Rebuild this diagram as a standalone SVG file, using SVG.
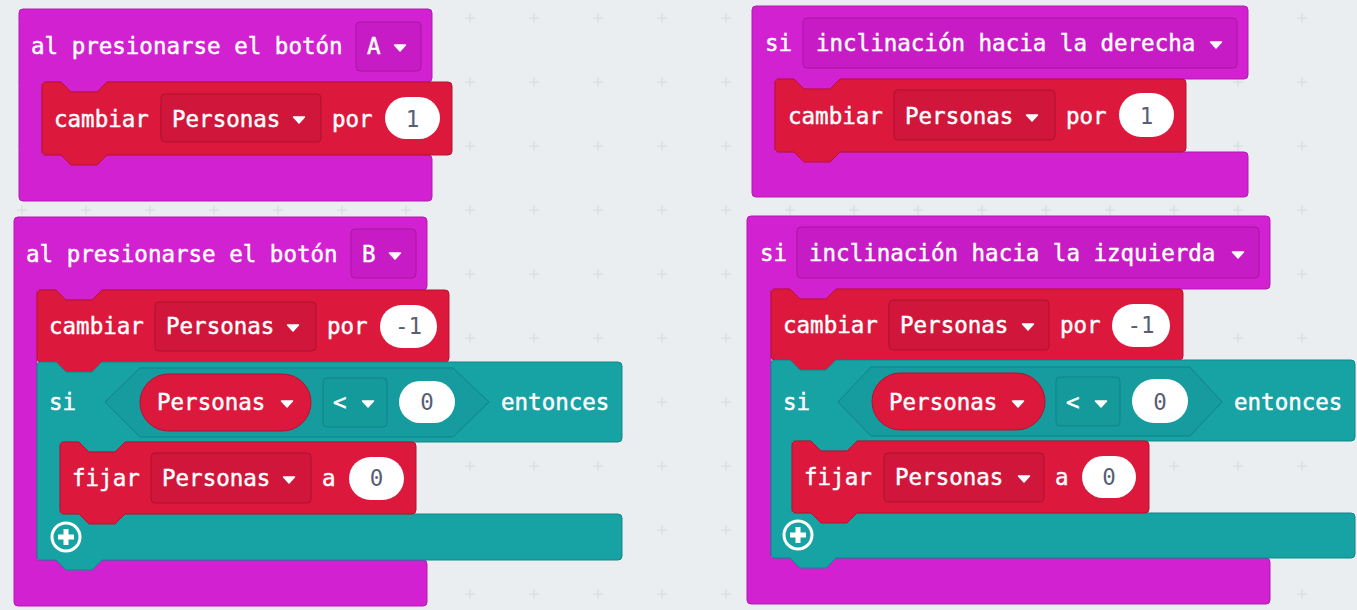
<svg xmlns="http://www.w3.org/2000/svg" xmlns:xlink="http://www.w3.org/1999/xlink" width="1357" height="610" viewBox="0 0 1357 610">
<style>
.bg{fill:#ebeef0}
.pur{fill:#d221d0;stroke:#b419b2;stroke-width:1}
.red{fill:#dc183d;stroke:#b8122f;stroke-width:1}
.teal{fill:#17a2a4;stroke:#10878a;stroke-width:1}
.ddp{fill:#c71cc5;stroke:#a8169f;stroke-width:1}
.ddr{fill:#d0163a;stroke:#ad1030;stroke-width:1}
.ddt{fill:#159a9c;stroke:#0f8385;stroke-width:1}
.pillr{fill:#dc183d;stroke:#b3112f;stroke-width:1}
.hex{fill:#169c9e;stroke:#0f8385;stroke-width:1}
.pill{fill:#ffffff}
text{font-family:"DejaVu Sans Mono","Liberation Mono",monospace;font-size:22.5px}
.t{fill:#ffffff;stroke:#ffffff;stroke-width:0.45}
.n{fill:#575e75;text-anchor:middle}
.tri{fill:#ffffff;stroke:#ffffff;stroke-width:1.5;stroke-linejoin:round}
</style>
<defs>
<pattern id="grid" patternUnits="userSpaceOnUse" x="-10" y="-14" width="64" height="64">
<path d="M27,32 H37 M32,27 V37" stroke="#d6dadd" stroke-width="1"/>
</pattern>
<path id="tri" class="tri" d="M-5.5,-3 H5.5 L0,3 Z"/>
<g id="plus">
<circle r="14" fill="none" stroke="#ffffff" stroke-width="3"/>
<path d="M-8,0 H8 M0,-8 V8" stroke="#ffffff" stroke-width="5"/>
</g>
</defs>
<rect class="bg" x="0" y="0" width="1357" height="610"/>
<rect x="0" y="0" width="1357" height="610" fill="url(#grid)"/>
<g id="connectors"></g>

<g id="block-a">
<path class="pur" d="M23,9 H428 Q432,9 432,13 V78 Q432,82 428,82 H107 L97,92 H71 L61,82 H42 V155 H428 Q432,155 432,159 V197 Q432,201 428,201 H23 Q19,201 19,197 V13 Q19,9 23,9 Z"/>
<text class="t" x="31" y="54">al presionarse el botón</text>
<rect class="ddp" x="356" y="22" width="65" height="49" rx="4"/>
<text class="t" x="367" y="54">A</text>
<use href="#tri" x="400" y="48"/>
<g id="a-cambiar">
<path class="red" d="M42,86 Q42,82 46,82 H61 L71,92 H97 L107,82 H448 Q452,82 452,86 V151 Q452,155 448,155 H107 L97,165 H71 L61,155 H46 Q42,155 42,151 Z"/>
<text class="t" x="54" y="127">cambiar</text>
<rect class="ddr" x="161" y="94" width="160" height="48" rx="4"/>
<text class="t" x="172" y="127">Personas</text>
<use href="#tri" x="299" y="120"/>
<text class="t" x="332" y="127">por</text>
<rect class="pill" x="385" y="97" width="55" height="42" rx="21"/>
<text class="n" x="412.5" y="127">1</text>
</g>
</g>

<g id="block-b">
<path class="pur" d="M18,217 H423 Q427,217 427,221 V286 Q427,290 423,290 H102 L92,300 H66 L56,290 H37 V560 H423 Q427,560 427,564 V602 Q427,606 423,606 H18 Q14,606 14,602 V221 Q14,217 18,217 Z"/>
<text class="t" x="26" y="262">al presionarse el botón</text>
<rect class="ddp" x="351" y="229" width="65" height="49" rx="4"/>
<text class="t" x="362" y="262">B</text>
<use href="#tri" x="395" y="256"/>
<g id="b-cambiar">
<path class="red" d="M37,294 Q37,290 41,290 H56 L66,300 H92 L102,290 H445 Q449,290 449,294 V358 Q449,362 445,362 H102 L92,372 H66 L56,362 H41 Q37,362 37,358 Z"/>
<text class="t" x="49" y="334">cambiar</text>
<rect class="ddr" x="155" y="302" width="161" height="49" rx="4"/>
<text class="t" x="166" y="334">Personas</text>
<use href="#tri" x="293" y="328"/>
<text class="t" x="327" y="334">por</text>
<rect class="pill" x="380" y="305" width="57" height="43" rx="21.5"/>
<text class="n" x="408.5" y="334">-1</text>
</g>
<g id="b-si">
<path class="teal" d="M37,366 Q37,362 41,362 H56 L66,372 H92 L102,362 H618 Q622,362 622,366 V438 Q622,442 618,442 H125 L115,452 H89 L79,442 H60 V514 H618 Q622,514 622,518 V556 Q622,560 618,560 H102 L92,570 H66 L56,560 H41 Q37,560 37,556 Z"/>
<text class="t" x="49" y="410">si</text>
<path class="hex" d="M105,402 L140,368 H453 L489,402 L453,437 H140 Z"/>
<rect class="pillr" x="140" y="374" width="171" height="57" rx="28.5"/>
<text class="t" x="157" y="410">Personas</text>
<use href="#tri" x="287" y="404"/>
<rect class="ddt" x="323" y="378" width="64" height="49" rx="4"/>
<text class="t" x="333" y="410">&lt;</text>
<use href="#tri" x="368" y="404"/>
<rect class="pill" x="399" y="381" width="56" height="42" rx="21"/>
<text class="n" x="427" y="410">0</text>
<text class="t" x="501" y="410">entonces</text>
<use href="#plus" x="66" y="537"/>
</g>
<g id="b-fijar">
<path class="red" d="M60,446 Q60,442 64,442 H79 L89,452 H115 L125,442 H412 Q416,442 416,446 V510 Q416,514 412,514 H125 L115,524 H89 L79,514 H64 Q60,514 60,510 Z"/>
<text class="t" x="72" y="486">fijar</text>
<rect class="ddr" x="151" y="453" width="160" height="50" rx="4"/>
<text class="t" x="162" y="486">Personas</text>
<use href="#tri" x="289" y="480"/>
<text class="t" x="322" y="486">a</text>
<rect class="pill" x="349" y="457" width="55" height="43" rx="21.5"/>
<text class="n" x="376.5" y="486">0</text>
</g>
</g>

<g id="block-c">
<path class="pur" d="M756,6 H1244 Q1248,6 1248,10 V75 Q1248,79 1244,79 H840 L830,89 H804 L794,79 H775 V152 H1244 Q1248,152 1248,156 V193 Q1248,197 1244,197 H756 Q752,197 752,193 V10 Q752,6 756,6 Z"/>
<text class="t" x="765" y="51">si</text>
<rect class="ddp" x="803" y="18" width="434" height="50" rx="4"/>
<text class="t" x="816" y="51">inclinación hacia la derecha</text>
<use href="#tri" x="1216" y="45"/>
<g id="c-cambiar">
<path class="red" d="M775,83 Q775,79 779,79 H794 L804,89 H830 L840,79 H1182 Q1186,79 1186,83 V148 Q1186,152 1182,152 H840 L830,162 H804 L794,152 H779 Q775,152 775,148 Z"/>
<text class="t" x="788" y="124">cambiar</text>
<rect class="ddr" x="894" y="90" width="161" height="50" rx="4"/>
<text class="t" x="905" y="124">Personas</text>
<use href="#tri" x="1032" y="118"/>
<text class="t" x="1066" y="124">por</text>
<rect class="pill" x="1119" y="93" width="55" height="44" rx="22"/>
<text class="n" x="1146.5" y="124">1</text>
</g>
</g>

<g id="block-d">
<path class="pur" d="M751,216 H1266 Q1270,216 1270,220 V285 Q1270,289 1266,289 H836 L826,299 H800 L790,289 H771 V558 H1266 Q1270,558 1270,562 V600 Q1270,604 1266,604 H751 Q747,604 747,600 V220 Q747,216 751,216 Z"/>
<text class="t" x="760" y="261">si</text>
<rect class="ddp" x="797" y="227" width="462" height="51" rx="4"/>
<text class="t" x="809" y="261">inclinación hacia la izquierda</text>
<use href="#tri" x="1238" y="255"/>
<g id="d-cambiar">
<path class="red" d="M771,293 Q771,289 775,289 H790 L800,299 H826 L836,289 H1179 Q1183,289 1183,293 V356 Q1183,360 1179,360 H836 L826,370 H800 L790,360 H775 Q771,360 771,356 Z"/>
<text class="t" x="783" y="333">cambiar</text>
<rect class="ddr" x="889" y="300" width="160" height="50" rx="4"/>
<text class="t" x="900" y="333">Personas</text>
<use href="#tri" x="1028" y="327"/>
<text class="t" x="1060" y="333">por</text>
<rect class="pill" x="1112" y="304" width="58" height="43" rx="21.5"/>
<text class="n" x="1141" y="333">-1</text>
</g>
<g id="d-si">
<path class="teal" d="M771,364 Q771,360 775,360 H790 L800,370 H826 L836,360 H1351 Q1355,360 1355,364 V437 Q1355,441 1351,441 H857 L847,451 H821 L811,441 H792 V513 H1351 Q1355,513 1355,517 V554 Q1355,558 1351,558 H836 L826,568 H800 L790,558 H775 Q771,558 771,554 Z"/>
<text class="t" x="783" y="410">si</text>
<path class="hex" d="M838,402 L871,367 H1190 L1222,402 L1190,436 H871 Z"/>
<rect class="pillr" x="872" y="373" width="173" height="57" rx="28.5"/>
<text class="t" x="889" y="410">Personas</text>
<use href="#tri" x="1018" y="404"/>
<rect class="ddt" x="1056" y="377" width="64" height="49" rx="4"/>
<text class="t" x="1066" y="410">&lt;</text>
<use href="#tri" x="1101" y="404"/>
<rect class="pill" x="1132" y="379" width="56" height="44" rx="22"/>
<text class="n" x="1160" y="410">0</text>
<text class="t" x="1234" y="410">entonces</text>
<use href="#plus" x="798" y="535"/>
</g>
<g id="d-fijar">
<path class="red" d="M792,445 Q792,441 796,441 H811 L821,451 H847 L857,441 H1145 Q1149,441 1149,445 V509 Q1149,513 1145,513 H857 L847,523 H821 L811,513 H796 Q792,513 792,509 Z"/>
<text class="t" x="804" y="485">fijar</text>
<rect class="ddr" x="884" y="453" width="160" height="49" rx="4"/>
<text class="t" x="895" y="485">Personas</text>
<use href="#tri" x="1024" y="479"/>
<text class="t" x="1055" y="485">a</text>
<rect class="pill" x="1082" y="456" width="54" height="42" rx="21"/>
<text class="n" x="1109" y="485">0</text>
</g>
</g>
</svg>
